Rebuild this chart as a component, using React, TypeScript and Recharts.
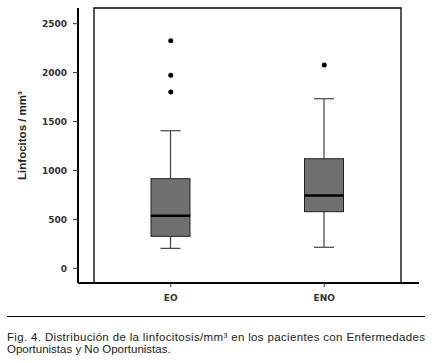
import { ComposedChart, Bar, Line, XAxis, YAxis, ReferenceArea } from "recharts";

const categories = ["EO", "ENO"];
const lowWhisker = [204, 215];
const q1 = [327, 579];
const median = [538, 743];
const q3 = [916, 1120];
const highWhisker = [1406, 1733];
const outlierA = [2326, 2077];
const outlierB = [1972, null];
const outlierC = [1802, null];
const yTicks = [0, 500, 1000, 1500, 2000, 2500];
const captionLines = [
  "Fig. 4. Distribución de la linfocitosis/mm³ en los pacientes con Enfermedades",
  "Oportunistas y No Oportunistas.",
];

const data = categories.map((name, i) => ({
  name,
  base: lowWhisker[i],
  lowW: q1[i] - lowWhisker[i],
  lowBox: median[i] - q1[i],
  highBox: q3[i] - median[i],
  highW: highWhisker[i] - q3[i],
  oA: outlierA[i],
  oB: outlierB[i],
  oC: outlierC[i],
}));

const whisker = "#444";
const boxFill = "#707070";
const capW = 20;

const BaseShape = (p: any) => {
  const cx = p.x + p.width / 2;
  return <line x1={cx - capW / 2} x2={cx + capW / 2} y1={p.y} y2={p.y} stroke={whisker} strokeWidth={1.2} />;
};

const LowWShape = (p: any) => {
  const cx = p.x + p.width / 2;
  return <line x1={cx} x2={cx} y1={p.y} y2={p.y + p.height} stroke={whisker} strokeWidth={1.2} />;
};

const BoxShape = (p: any) => (
  <rect x={p.x} y={p.y} width={p.width} height={p.height} fill={boxFill} stroke="#222" strokeWidth={1} />
);

const HighBoxShape = (p: any) => (
  <g>
    <rect x={p.x} y={p.y} width={p.width} height={p.height} fill={boxFill} stroke="#222" strokeWidth={1} />
    <line x1={p.x} x2={p.x + p.width} y1={p.y + p.height} y2={p.y + p.height} stroke="#000" strokeWidth={2.5} />
  </g>
);

const HighWShape = (p: any) => {
  const cx = p.x + p.width / 2;
  return (
    <g>
      <line x1={cx} x2={cx} y1={p.y} y2={p.y + p.height} stroke={whisker} strokeWidth={1.2} />
      <line x1={cx - capW / 2} x2={cx + capW / 2} y1={p.y} y2={p.y} stroke={whisker} strokeWidth={1.2} />
    </g>
  );
};

const YLabel = ({ viewBox }: any) => {
  const x = 22;
  const y = viewBox.y + viewBox.height / 2 - 10;
  return (
    <text
      x={x}
      y={y}
      transform={`rotate(-90 ${x} ${y})`}
      textAnchor="middle"
      dominantBaseline="central"
      fontFamily="Liberation Sans, Arial, sans-serif"
      fontWeight="bold"
      fontSize={11.5}
      fill="#222"
    >
      Linfocitos / mm³
    </text>
  );
};

const tickFont = { fontSize: 9, fontWeight: "bold", fill: "#333", fontFamily: "DejaVu Sans" };

export default function App() {
  return (
    <div style={{ position: "absolute", left: 0, top: 0, width: 440, height: 363, background: "#fff" }}>
      <ComposedChart
        width={440}
        height={310}
        data={data}
        margin={{ top: 8, right: 21, left: 0, bottom: 0 }}
      >
        <XAxis
          dataKey="name"
          height={27}
          padding={{ left: 16, right: 18 }}
          axisLine={{ stroke: "#000", strokeWidth: 2 }}
          tickLine={{ stroke: "#333" }}
          tickSize={4}
          tickMargin={8}
          tick={tickFont}
        />
        <YAxis
          width={78}
          domain={[-150, 2660]}
          ticks={yTicks}
          axisLine={{ stroke: "#000", strokeWidth: 2 }}
          tickLine={{ stroke: "#333" }}
          tickSize={5}
          tickMargin={6}
          tick={tickFont}
          label={<YLabel />}
        />
        <ReferenceArea y1={-150} y2={2660} fill="none" stroke="#000" strokeWidth={1.3} />
        <Bar dataKey="base" stackId="b" barSize={39} shape={BaseShape} isAnimationActive={false} />
        <Bar dataKey="lowW" stackId="b" barSize={39} shape={LowWShape} isAnimationActive={false} />
        <Bar dataKey="lowBox" stackId="b" barSize={39} shape={BoxShape} isAnimationActive={false} />
        <Bar dataKey="highBox" stackId="b" barSize={39} shape={HighBoxShape} isAnimationActive={false} />
        <Bar dataKey="highW" stackId="b" barSize={39} shape={HighWShape} isAnimationActive={false} />
        <Line dataKey="oA" stroke="none" dot={{ r: 2.5, fill: "#000", stroke: "none" }} activeDot={false} isAnimationActive={false} />
        <Line dataKey="oB" stroke="none" dot={{ r: 2.5, fill: "#000", stroke: "none" }} activeDot={false} isAnimationActive={false} />
        <Line dataKey="oC" stroke="none" dot={{ r: 2.5, fill: "#000", stroke: "none" }} activeDot={false} isAnimationActive={false} />
      </ComposedChart>
      <svg width={440} height={53} style={{ position: "absolute", left: 0, top: 310 }}>
        <line x1={7} x2={425} y1={6.5} y2={6.5} stroke="#000" strokeWidth={1} />
        <text
          x={7}
          y={30.5}
          fontFamily="Liberation Sans, Arial, sans-serif"
          fontSize={11.5}
          fill="#222"
          textLength={418}
          lengthAdjust="spacing"
        >
          {captionLines[0]}
        </text>
        <text x={7} y={42.5} fontFamily="Liberation Sans, Arial, sans-serif" fontSize={11.5} fill="#222">
          {captionLines[1]}
        </text>
      </svg>
    </div>
  );
}
